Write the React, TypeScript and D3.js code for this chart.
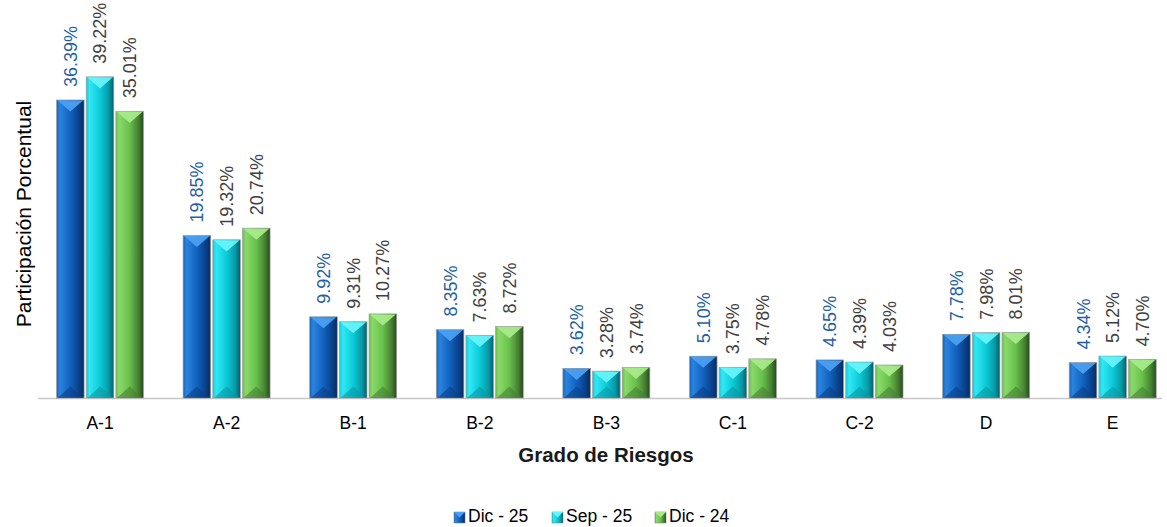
import React from "react";
import * as d3 from "d3";

const categories = ["A-1", "A-2", "B-1", "B-2", "B-3", "C-1", "C-2", "D", "E"];
const seriesNames = ["Dic - 25", "Sep - 25", "Dic - 24"];
const dic25 = [36.39, 19.85, 9.92, 8.35, 3.62, 5.1, 4.65, 7.78, 4.34];
const sep25 = [39.22, 19.32, 9.31, 7.63, 3.28, 3.75, 4.39, 7.98, 5.12];
const dic24 = [35.01, 20.74, 10.27, 8.72, 3.74, 4.78, 4.03, 8.01, 4.7];
const seriesValues = [dic25, sep25, dic24];

const palettes = [
  { dark: "#082c60", mid: "#1262c0", light: "#2a84de", top: "#4a9ff0", bottom: "#0a3f86", label: "#1f5fa8" },
  { dark: "#045e68", mid: "#0ccad8", light: "#30e8f4", top: "#66f3fa", bottom: "#0898a4", label: "#404040" },
  { dark: "#264a1c", mid: "#68c04a", light: "#8ad96b", top: "#a8ea8a", bottom: "#467f33", label: "#404040" },
];

const W = 1167;
const H = 527;
const baseY = 398;
const left = 36.7;
const right = 1176;

export default function App() {
  const x0 = d3.scaleBand<string>().domain(categories).range([left, right]).paddingInner(0).paddingOuter(0);
  const groupW = 87;
  const x1 = d3.scaleBand<string>().domain(seriesNames).range([0, groupW]).paddingInner(0.07);
  const y = d3.scaleLinear().domain([0, 36.39]).range([baseY, 100]);
  const bw = x1.bandwidth();

  return (
    <svg width={W} height={H} style={{ position: "absolute", left: 0, top: 0 }} fontFamily="Liberation Sans, Arial, sans-serif">
      <defs>
        {palettes.map((p, i) => (
          <linearGradient key={i} id={`g${i}`} x1="0" x2="1" y1="0" y2="0">
            <stop offset="0" stopColor={p.mid} />
            <stop offset="0.12" stopColor={p.light} />
            <stop offset="0.5" stopColor={p.mid} />
            <stop offset="0.82" stopColor={p.bottom} />
            <stop offset="1" stopColor={p.dark} />
          </linearGradient>
        ))}
      </defs>
      <rect width={W} height={H} fill="#fff" />
      <line x1={38} x2={1162} y1={baseY + 0.5} y2={baseY + 0.5} stroke="#c8c8c8" strokeWidth={1.5} />
      {categories.map((c, ci) => {
        const gx = (x0(c) as number) + x0.bandwidth() / 2 - groupW / 2;
        return (
          <g key={c}>
            {seriesNames.map((s, si) => {
              const v = seriesValues[si][ci];
              const bx = gx + (x1(s) as number);
              const by = y(v);
              const bh = baseY - by;
              const p = palettes[si];
              const bev = Math.min(bw * 0.42, bh / 2);
              const cx = bx + bw / 2;
              return (
                <g key={s}>
                  <rect x={bx} y={by} width={bw} height={bh} fill={`url(#g${si})`} stroke="#a0a0a0" strokeWidth={0.7} />
                  <polygon points={`${bx + 1},${by + 0.5} ${bx + bw - 1},${by + 0.5} ${cx},${by + bev}`} fill={p.top} opacity={0.95} />
                  <polygon points={`${bx + 1},${baseY} ${bx + bw - 1},${baseY} ${cx},${baseY - bev}`} fill={p.bottom} opacity={0.6} />
                  <text
                    transform={`translate(${cx + 6.5},${by - 13}) rotate(-90)`}
                    fontSize={18}
                    fill={p.label}
                    textAnchor="start"
                  >
                    {v.toFixed(2)}%
                  </text>
                </g>
              );
            })}
            <text x={gx + groupW / 2} y={429} fontSize={17.5} textAnchor="middle" fill="#000">
              {c}
            </text>
          </g>
        );
      })}
      <text x={606} y={462} fontSize={20.5} fontWeight="bold" textAnchor="middle" fill="#1a1a1a">
        Grado de Riesgos
      </text>
      <text transform={`translate(31,214) rotate(-90)`} fontSize={21} textAnchor="middle" fill="#000">
        Participación Porcentual
      </text>
      {(() => {
        const items = [
          { x: 454, label: seriesNames[0] },
          { x: 552, label: seriesNames[1] },
          { x: 655, label: seriesNames[2] },
        ];
        return items.map((it, i) => (
          <g key={i}>
            <rect x={it.x} y={512} width={11} height={11} fill={`url(#g${i})`} stroke="#777" strokeWidth={0.5} />
            <polygon points={`${it.x},${512} ${it.x + 11},${512} ${it.x + 5.5},${517.5}`} fill={palettes[i].top} />
            <text x={it.x + 14} y={522} fontSize={17.5} fill="#000">
              {it.label}
            </text>
          </g>
        ));
      })()}
    </svg>
  );
}
